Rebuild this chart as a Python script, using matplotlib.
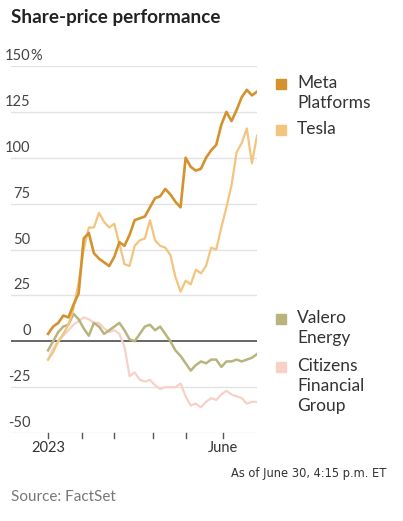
from matplotlib import pyplot as plt
from matplotlib.patches import Rectangle
import matplotlib.transforms as mtransforms
import numpy as np

plt.rcParams['font.family'] = ['Lato', 'DejaVu Sans']

# trading-day index (every 3rd session, Dec 30 2022 .. June 30 2023)
days = np.arange(0, 124, 3)

meta = [4, 8, 10, 14, 13, 20, 26, 56, 59, 48,
        45, 43, 41, 46, 54, 52, 58, 66, 67, 68,
        73, 78, 79, 83, 80, 76, 73, 100, 95, 93,
        94, 100, 104, 107, 118, 125, 120, 126, 133, 137,
        134, 136]
tesla = [-10, -6, 0, 4, 9, 18, 32, 50, 62, 62,
         70, 65, 62, 64, 53, 42, 41, 52, 55, 56,
         66, 55, 52, 51, 47, 35, 27, 33, 31, 39,
         37, 41, 51, 50, 62, 73, 85, 103, 108, 116,
         97, 112]
valero = [-5, 0, 5, 8, 9, 15, 12, 7, 3, 10,
          8, 4, 6, 8, 10, 6, 1, 0, 4, 8,
          9, 6, 8, 4, 0, -5, -8, -12, -16, -13,
          -11, -12, -10, -10, -14, -11, -11, -10, -11, -10,
          -9, -7]
citizens = [-10, -4, 0, 3, 6, 9, 11, 13, 12, 10,
            10, 7, 5, 6, 4, -3, -19, -17, -21, -22,
            -21, -24, -26, -25, -25, -25, -23, -30, -35, -34,
            -36, -33, -31, -32, -29, -27, -29, -30, -31, -34,
            -33, -33]

names = ["Meta\nPlatforms", "Tesla", "Valero\nEnergy", "Citizens\nFinancial\nGroup"]
colors = ["#D4922E", "#F3C47E", "#B8B47E", "#F6D2C6"]

yticks = [150, 125, 100, 75, 50, 25, 0, -25, -50]
ytick_labels = ["150", "125", "100", "75", "50", "25", "0", "-25", "-50"]
month_pos = [0, 20, 39, 62, 81, 103]
month_labels = ["2023", "", "", "", "", "June"]

W, H = 403, 521
fig = plt.figure(figsize=(W / 100, H / 100), dpi=100)

def fx(x):
    return x / W

def fy(y):
    return 1 - y / H

ax = fig.add_axes([fx(11), fy(433), fx(257) - fx(11), fy(66) - fy(433)])
ax.set_xlim(-21.8, 123)
ax.set_ylim(-50, 150)
for s in ax.spines.values():
    s.set_visible(False)
ax.set_yticks([])
ax.set_xticks([])

# gridlines
for v in yticks:
    if v == 0:
        ax.axhline(0, color="#5a5a5a", lw=1.3, zorder=1)
    else:
        ax.axhline(v, color="#e2e2e2", lw=1.0, zorder=0)

# y labels sit above the gridlines
off = mtransforms.offset_copy(ax.transData, fig=fig, x=0, y=3, units='dots')
for v, lab in zip(yticks, ytick_labels):
    ax.text(-10.2, v, lab, transform=off, ha="right", va="bottom",
            fontsize=10.5, color="#444444")
ax.text(-10.2, 150, "%", transform=off, ha="left", va="bottom",
        fontsize=10.5, color="#444444")

# month ticks
for p, lab in zip(month_pos, month_labels):
    ax.plot([p, p], [-50, -52.5], color="#555555", lw=1.0, clip_on=False)
    if lab:
        ax.text(p, -54.5, lab, ha="center", va="top", fontsize=10.5, color="#333333")

ax.plot(days, citizens, color=colors[3], lw=1.6, zorder=2)
ax.plot(days, valero, color=colors[2], lw=1.8, zorder=3)
ax.plot(days, tesla, color=colors[1], lw=1.6, zorder=4)
ax.plot(days, meta, color=colors[0], lw=1.9, zorder=5)

# legend
legend_y = [84, 130, 319, 367]
for name, c, y in zip(names, colors, legend_y):
    fig.patches.append(Rectangle((fx(276), fy(y + 5)), fx(10), fy(y - 5) - fy(y + 5),
                                 transform=fig.transFigure, color=c))
    fig.text(fx(297), fy(y), name, ha="left", va="top", fontsize=12.5,
             color="#333333", linespacing=1.3,
             transform=mtransforms.offset_copy(fig.transFigure, fig=fig, x=0, y=9, units='dots'))

fig.text(fx(11), fy(18), "Share-price performance", ha="left", va="center",
         fontsize=13.6, fontweight="bold", color="#222222")
fig.text(fx(386), fy(473), "As of June 30, 4:15 p.m. ET", ha="right", va="center",
         fontsize=9.2, color="#333333", family="DejaVu Sans", fontstretch="condensed")
fig.text(fx(11), fy(497), "Source: FactSet", ha="left", va="center",
         fontsize=11, color="#777777")

fig.savefig("out.png", dpi=100)
